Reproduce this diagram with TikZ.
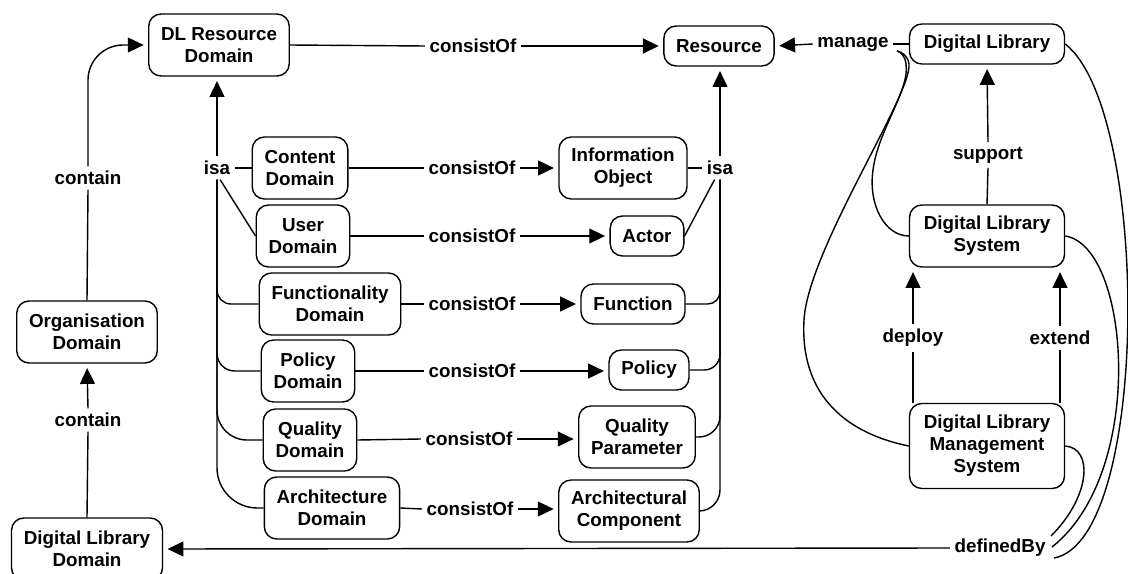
\documentclass[tikz,border=0pt]{standalone}
\usepackage{fontspec}
\setmainfont{Liberation Sans}
\usepackage{tikz}
\usetikzlibrary{arrows.meta,positioning}

\tikzset{
    box/.style={draw, line width=0.8pt, rounded corners=7pt, align=center, inner xsep=7pt, inner ysep=3pt, minimum height=0.8cm, font=\bfseries\fontsize{10.7}{12.5}\selectfont},
    box2/.style={box, minimum height=1.24cm},
    dlbox/.style={box, minimum width=3.1cm},
    rel/.style={line width=0.8pt},
    arr/.style={rel, -{Triangle[length=9pt,width=8.5pt]}, shorten >=2.5pt},
    lbl/.style={inner sep=2.5pt, font=\bfseries\fontsize{10.7}{12.5}\selectfont},
}

\begin{document}
\begin{tikzpicture}[x=0.02cm, y=-0.02cm]
    \useasboundingbox (0,0) rectangle (1128,574);
    % domains on the left
    \node [box2] (dlrd) at (219,45) {DL Resource\\Domain}; % top domain
    \node [box2] (org) at (87,332) {Organisation\\Domain};
    \node [box2] (dld) at (87,549) {Digital Library\\Domain}; % cut by the bottom edge
    \node [box2] (cont) at (300,168) {Content\\Domain};
    \node [box2] (user) at (303,236) {User\\Domain};
    \node [box2] (funcd) at (330,304) {Functionality\\Domain};
    \node [box2] (pold) at (308,371) {Policy\\Domain};
    \node [box2] (quald) at (310,440) {Quality\\Domain};
    \node [box2] (archd) at (332,508) {Architecture\\Domain};
    % resources
    \node [box] (res) at (719,46) {Resource};
    \node [box2] (info) at (623,168) {Information\\Object};
    \node [box] (actor) at (647,236) {Actor};
    \node [box] (func) at (633,304) {Function};
    \node [box] (pol) at (649,370) {Policy};
    \node [box2] (qpar) at (637,437) {Quality\\Parameter};
    \node [box2] (archc) at (629,511) {Architectural\\Component};
    % systems on the right
    \node [dlbox] (dl) at (987,44) {Digital Library};
    \node [dlbox, minimum height=1.24cm] (dls) at (987,236) {Digital Library\\System};
    \node [dlbox, minimum height=1.7cm] (dlms) at (987,446) {Digital Library\\Management\\System};
    % labels
    \node [lbl] (co0) at (473,46) {consistOf};
    \node [lbl] (co1) at (472,168) {consistOf};
    \node [lbl] (co2) at (472,236) {consistOf};
    \node [lbl] (co3) at (472,304) {consistOf};
    \node [lbl] (co4) at (472,371) {consistOf};
    \node [lbl] (co5) at (469,439) {consistOf};
    \node [lbl] (co6) at (470,509) {consistOf};
    \node [lbl] (isaL) at (217,168) {isa};
    \node [lbl] (isaR) at (720,168) {isa};
    \node [lbl] (contU) at (88,178) {contain};
    \node [lbl] (contL) at (88,420) {contain};
    \node [lbl] (manage) at (853,44) {manage};
    \node [lbl] (support) at (988,155) {support};
    \node [lbl] (deploy) at (913,338) {deploy};
    \node [lbl] (extend) at (1060,338) {extend};
    \node [lbl] (defby) at (1000,548) {definedBy};
    \coordinate (mjoin) at (897,51); % where the manage curves meet
    \coordinate (d1) at (1051,536);
    \coordinate (d2) at (1052,547);
    \coordinate (d3) at (1054,558);

    % consistOf
    \draw [rel] (dlrd.east) -- (co0.west);
    \draw [arr] (co0.east) -- (co0.east -| res.west);
    \draw [rel] (cont.east) -- (co1.west);
    \draw [arr] (co1.east) -- (co1.east -| info.west);
    \draw [rel] (user.east) -- (co2.west);
    \draw [arr] (co2.east) -- (co2.east -| actor.west);
    \draw [rel] (funcd.east) -- (co3.west);
    \draw [arr] (co3.east) -- (co3.east -| func.west);
    \draw [rel] (pold.east) -- (co4.west);
    \draw [arr] (co4.east) -- (co4.east -| pol.west);
    \draw [rel] (quald.east) -- (co5.west);
    \draw [arr] (co5.east) -- (co5.east -| qpar.west);
    \draw [rel] (archd.east) -- (co6.west);
    \draw [arr] (co6.east) -- (co6.east -| archc.west);

    % isa, left
    \draw [arr] (isaL.north) -- (isaL.north |- dlrd.south);
    \draw [rel] (cont.west) -- (isaL.east);
    \draw [rel] (user.west) -- (isaL.-75);
    \draw [rel, rounded corners=8pt] (isaL.south) |- (funcd.west);
    \draw [rel, rounded corners=10pt] (isaL.south) |- (pold.west);
    \draw [rel, rounded corners=17pt] (isaL.south) |- (quald.west);
    \draw [rel, rounded corners=23pt] (isaL.south) |- (archd.west);

    % isa, right
    \draw [arr] (isaR.north) -- (isaR.north |- res.south);
    \draw [rel] (info.east) -- (isaR.west);
    \draw [rel] (actor.east) -- (isaR.-115);
    \draw [rel, rounded corners=7pt] (func.east) -| (isaR.south);
    \draw [rel, rounded corners=9pt] (pol.east) -| (isaR.south);
    \draw [rel, rounded corners=12pt] (qpar.east) -| (isaR.south);
    \draw [rel, rounded corners=12pt] (archc.east) -| (isaR.south);

    % contain
    \draw [rel] (org.north) -- (contU.south);
    \draw [arr, rounded corners=20pt] (contU.north) |- (dlrd.west);
    \draw [rel] (dld.north) -- (contL.south);
    \draw [arr] (contL.north) -- (org.south);

    % manage
    \draw [rel] (dl.west) -- (manage.east);
    \draw [arr] (manage.west) -- (res.east);
    \draw [rel] (dls.west) .. controls (885,236) and (868,205) .. (873,170)
        .. controls (878,130) and (910,90) .. (906,64) .. controls (905,56) and (901,52) .. (mjoin);
    \draw [rel] (dlms.west) .. controls (840,432) and (800,390) .. (804,320)
        .. controls (808,250) and (912,95) .. (909,64) .. controls (908,56) and (902,52) .. (mjoin);

    % support, deploy, extend
    \draw [rel] (dls.north) -- (support.south);
    \draw [arr] (support.north) -- (dl.south);
    \draw [rel] (deploy.south |- dlms.north) -- (deploy.south);
    \draw [arr] (deploy.north) -- (deploy.north |- dls.south);
    \draw [rel] (extend.south |- dlms.north) -- (extend.south);
    \draw [arr] (extend.north) -- (extend.north |- dls.south);

    % definedBy
    \draw [arr] (defby.west) -- (dld.east);
    \draw [rel] (dlms.east) .. controls +(28,2) and +(40,-40) .. (d1);
    \draw [rel] (dls.east) .. controls +(65,10) and +(95,-75) .. (d2);
    \draw [rel] (dl.east) .. controls +(85,66) and +(97,-18) .. (d3);
\end{tikzpicture}
\end{document}
